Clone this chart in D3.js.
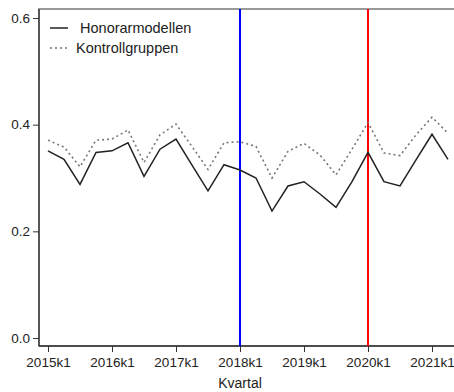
<!DOCTYPE html>
<html>
<head>
<meta charset="utf-8">
<script src="https://cdn.jsdelivr.net/npm/d3@7"></script>
<style>
  html, body { margin: 0; padding: 0; background: #fff; }
  svg { display: block; font-family: "Liberation Sans", Arial, sans-serif; }
</style>
</head>
<body>
<svg id="chart" width="454" height="392"></svg>
<script>
// Quarterly shares, 2015k1 through 2021k2
const quarters = [
  "2015k1","2015k2","2015k3","2015k4",
  "2016k1","2016k2","2016k3","2016k4",
  "2017k1","2017k2","2017k3","2017k4",
  "2018k1","2018k2","2018k3","2018k4",
  "2019k1","2019k2","2019k3","2019k4",
  "2020k1","2020k2","2020k3","2020k4",
  "2021k1","2021k2"
];
const honorarmodellen = [
  0.351, 0.335, 0.288, 0.348,
  0.351, 0.366, 0.303, 0.354,
  0.373, 0.324, 0.276, 0.325,
  0.315, 0.300, 0.238, 0.285,
  0.293, 0.270, 0.245, 0.293,
  0.348, 0.293, 0.285, 0.334,
  0.382, 0.335
];
const kontrollgruppen = [
  0.371, 0.358, 0.321, 0.371,
  0.373, 0.390, 0.329, 0.381,
  0.401, 0.359, 0.316, 0.366,
  0.368, 0.359, 0.300, 0.350,
  0.365, 0.343, 0.306, 0.354,
  0.404, 0.347, 0.342, 0.381,
  0.414, 0.384
];
const xTickLabels = ["2015k1","2016k1","2017k1","2018k1","2019k1","2020k1","2021k1"];
const yTicks = [0.0, 0.2, 0.4, 0.6];
const markers = [
  { quarter: "2018k1", color: "#0000ff" },
  { quarter: "2020k1", color: "#ff0000" }
];
const legendItems = [
  { label: " Honorarmodellen", dash: null, color: "#222" },
  { label: "Kontrollgruppen", dash: "2,3", color: "#777" }
];

const svg = d3.select("#chart");
const frame = { left: 39, top: 9, right: 470, bottom: 346 };

const x = d3.scaleLinear().domain([0, quarters.length - 1]).range([48, 448]);
const y = d3.scaleLinear().domain([0, 0.6]).range([338, 18]);
const xi = q => x(quarters.indexOf(q));

// plot frame (right side runs past the canvas edge)
svg.append("rect")
  .attr("x", frame.left).attr("y", frame.top)
  .attr("width", frame.right - frame.left).attr("height", frame.bottom - frame.top)
  .attr("fill", "none").attr("stroke", "#777").attr("stroke-width", 1.5);

// y axis
const yAxis = d3.axisLeft(y).tickValues(yTicks).tickFormat(d3.format(".1f")).tickSize(6).tickPadding(3);
const gy = svg.append("g").attr("transform", `translate(${frame.left},0)`).call(yAxis);
gy.select(".domain").attr("stroke", "#333").attr("stroke-width", 1.3)
  .attr("d", `M0,${frame.top}V${frame.bottom}`);
gy.selectAll(".tick line").attr("stroke", "#333");
gy.selectAll(".tick text").attr("font-size", 13.5).attr("fill", "#222")
  .attr("font-family", "Liberation Sans, Arial, sans-serif");

// x axis
const xAxis = d3.axisBottom(x)
  .tickValues(xTickLabels.map(q => quarters.indexOf(q)))
  .tickFormat(i => quarters[i]).tickSize(6).tickPadding(5);
const gx = svg.append("g").attr("transform", `translate(0,${frame.bottom})`).call(xAxis);
gx.select(".domain").attr("stroke", "#333").attr("stroke-width", 1.3)
  .attr("d", `M${frame.left},0H${frame.right}`);
gx.selectAll(".tick line").attr("stroke", "#333");
gx.selectAll(".tick text").attr("font-size", 13.5).attr("fill", "#222")
  .attr("font-family", "Liberation Sans, Arial, sans-serif");

svg.append("text")
  .attr("x", 240).attr("y", 388)
  .attr("text-anchor", "middle").attr("font-size", 14).attr("fill", "#222")
  .text("Kvartal");

// vertical reference lines
svg.selectAll("line.marker").data(markers).enter().append("line")
  .attr("class", "marker")
  .attr("x1", d => xi(d.quarter)).attr("x2", d => xi(d.quarter))
  .attr("y1", frame.top).attr("y2", frame.bottom)
  .attr("stroke", d => d.color).attr("stroke-width", 2);

// series lines
const line = d3.line().x((d, i) => x(i)).y(d => y(d));
svg.append("path").datum(kontrollgruppen)
  .attr("d", line).attr("fill", "none")
  .attr("stroke", "#777").attr("stroke-width", 1.6).attr("stroke-dasharray", "2,3");
svg.append("path").datum(honorarmodellen)
  .attr("d", line).attr("fill", "none")
  .attr("stroke", "#222").attr("stroke-width", 1.5).attr("stroke-linejoin", "miter");

// legend
const legend = svg.append("g").attr("transform", "translate(50,28)");
legendItems.forEach((it, i) => {
  const g = legend.append("g").attr("transform", `translate(0,${i * 20})`);
  g.append("line").attr("x1", 0).attr("x2", 18).attr("y1", 0).attr("y2", 0)
    .attr("stroke", it.color).attr("stroke-width", 1.5)
    .attr("stroke-dasharray", it.dash);
  g.append("text").attr("x", 26).attr("y", 5).attr("font-size", 14.5).attr("fill", "#222")
    .attr("xml:space", "preserve").style("white-space", "pre")
    .text(it.label);
});
</script>
</body>
</html>
